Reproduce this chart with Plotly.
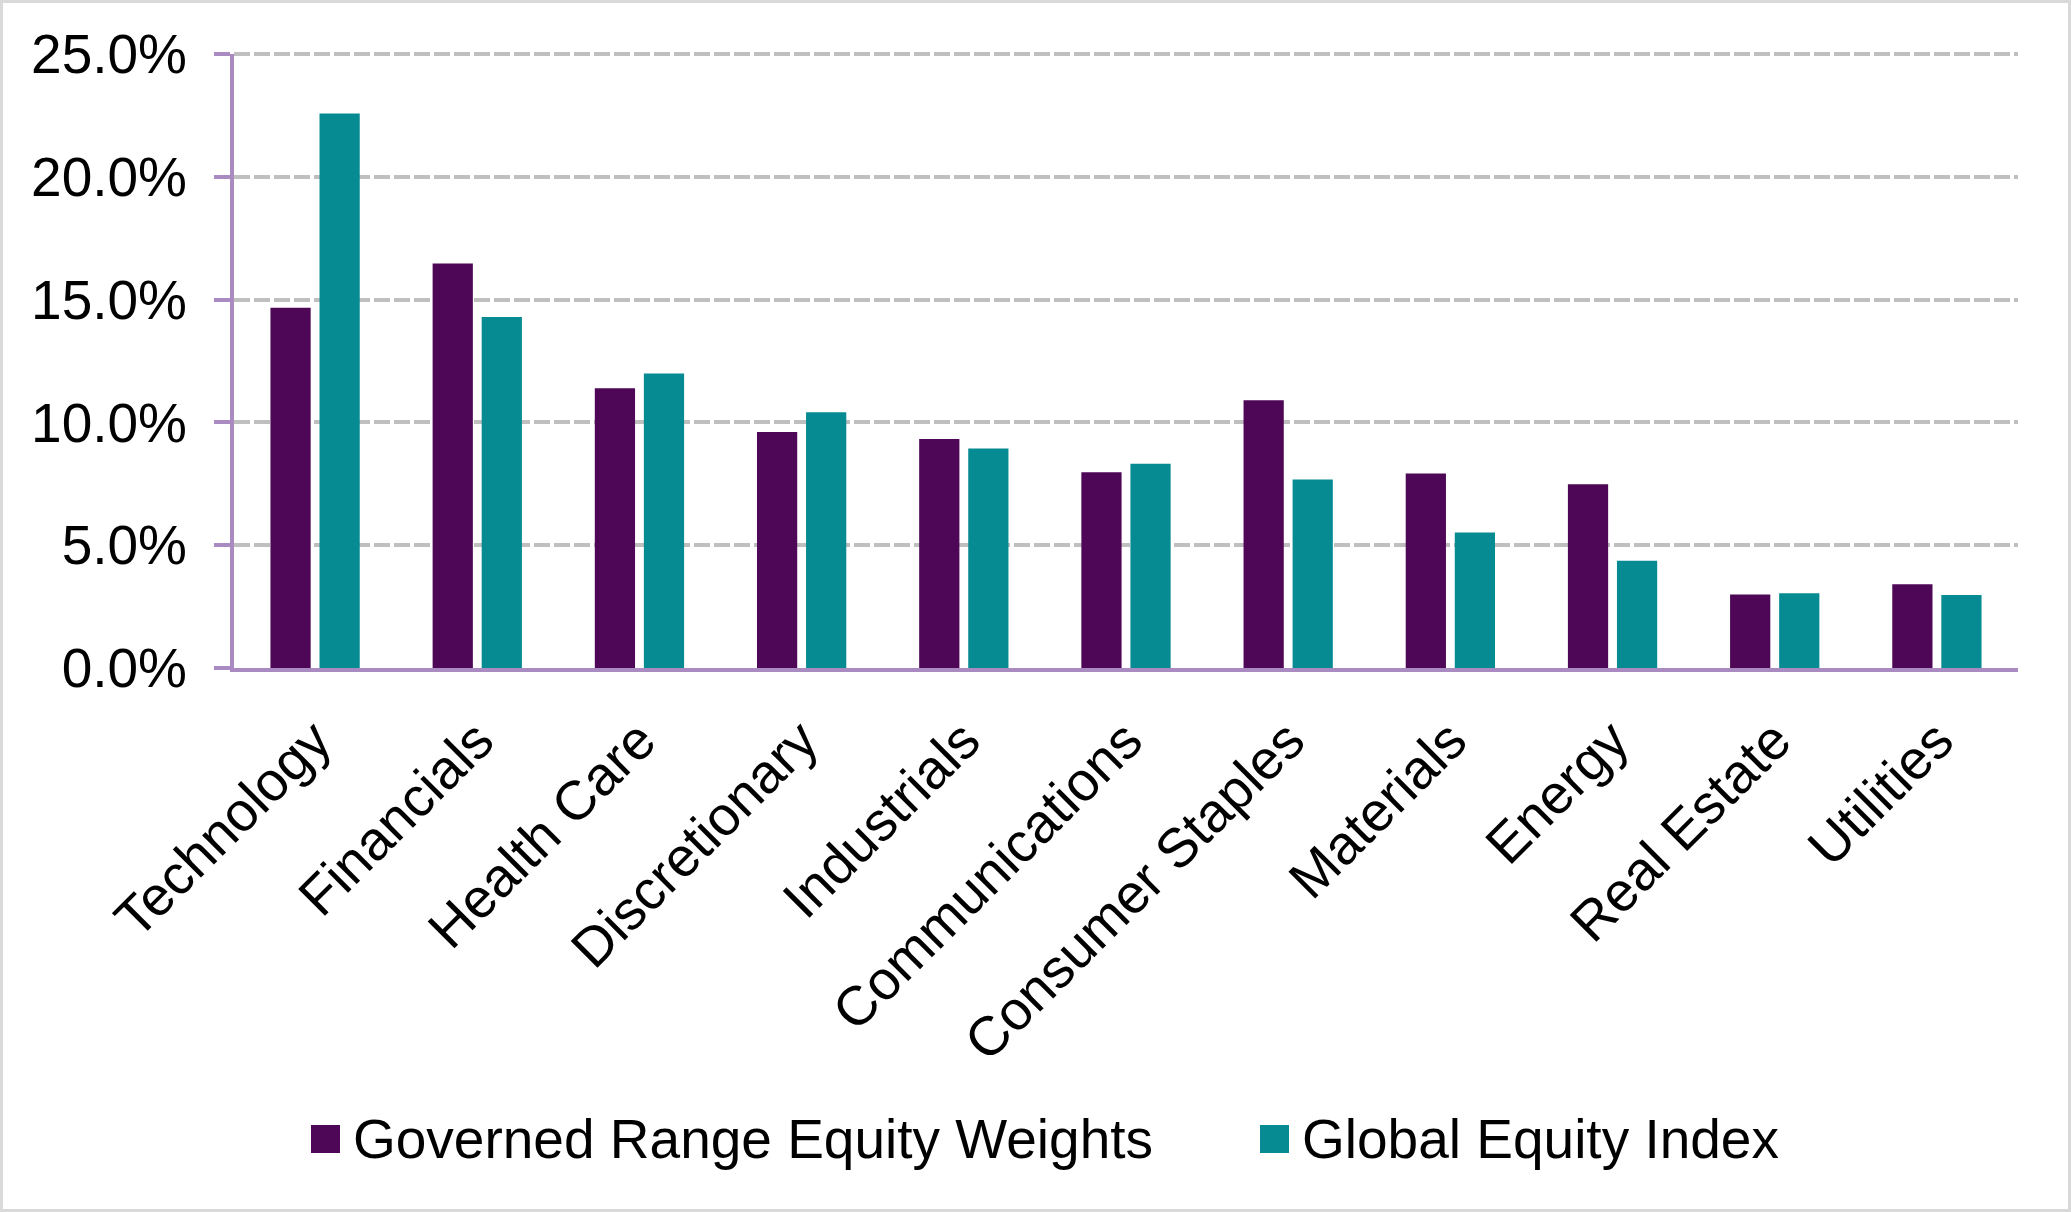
import plotly.graph_objects as go

categories = ["Technology", "Financials", "Health Care", "Discretionary", "Industrials",
              "Communications", "Consumer Staples", "Materials", "Energy", "Real Estate", "Utilities"]
governed = [14.67, 16.47, 11.39, 9.61, 9.32, 7.97, 10.90, 7.92, 7.48, 2.99, 3.41]
global_index = [22.58, 14.29, 11.99, 10.41, 8.94, 8.32, 7.68, 5.52, 4.37, 3.04, 2.97]
series_names = ["Governed Range Equity Weights", "Global Equity Index"]
y_ticks = [0, 5, 10, 15, 20, 25]

PURPLE = "#4E0657"
TEAL = "#078B93"
AXIS = "#A98BC1"
GRID = "#BFBFBF"
FONT = "Liberation Sans, Arial, sans-serif"

W, H = 2071, 1212
L, R, T, B = 234, 53, 54, 544
PW, PH = W - L - R, H - T - B


def px(x):
    return (x - L) / PW


def py(y):
    return (H - B - y) / PH


fig = go.Figure()
fig.add_trace(go.Bar(x=categories, y=governed, name=series_names[0],
                     marker=dict(color=PURPLE, line=dict(width=0)), showlegend=False))
fig.add_trace(go.Bar(x=categories, y=global_index, name=series_names[1],
                     marker=dict(color=TEAL, line=dict(width=0)), showlegend=False))

shapes = [
    # top gridline at the upper end of the axis range (plotly hides the grid line on the plot edge)
    dict(type="line", xref="paper", yref="paper", x0=0, x1=1, y0=1, y1=1,
         line=dict(color=GRID, width=4, dash="16px,4px"), layer="below"),
    dict(type="rect", xref="paper", yref="paper", x0=px(1.5), x1=px(2069.5), y0=py(1.5), y1=py(1210.5),
         line=dict(color="#D9D9D9", width=3), fillcolor="rgba(0,0,0,0)", layer="above"),
    dict(type="rect", xref="paper", yref="paper", x0=px(311), x1=px(340), y0=py(1125), y1=py(1153),
         line=dict(width=0), fillcolor=PURPLE),
    dict(type="rect", xref="paper", yref="paper", x0=px(1260), x1=px(1289), y0=py(1125), y1=py(1153),
         line=dict(width=0), fillcolor=TEAL),
]
annotations = [
    dict(xref="paper", yref="paper", x=px(351), y=py(1139), xanchor="left", yanchor="middle",
         text=series_names[0], showarrow=False, font=dict(size=55, color="#000000", family=FONT)),
    dict(xref="paper", yref="paper", x=px(1300), y=py(1139), xanchor="left", yanchor="middle",
         text=series_names[1], showarrow=False, font=dict(size=55, color="#000000", family=FONT)),
]

fig.update_layout(
    width=W, height=H,
    margin=dict(l=L, r=R, t=T, b=B, autoexpand=False),
    paper_bgcolor="white", plot_bgcolor="white",
    font=dict(family=FONT, size=55, color="#000000"),
    barmode="group", bargap=0.395, bargroupgap=0.18,
    showlegend=False,
    shapes=shapes, annotations=annotations,
    xaxis=dict(showline=True, linecolor=AXIS, linewidth=4, ticks="", showgrid=False,
               tickangle=-45, tickfont=dict(size=55), ticklabelstandoff=14, fixedrange=True),
    yaxis=dict(range=[0, 25], tickvals=y_ticks, ticktext=[f"{v:.1f}%" for v in y_ticks],
               showline=True, linecolor=AXIS, linewidth=4, ticks="outside", ticklen=16,
               tickwidth=4, tickcolor=AXIS, showgrid=True, gridcolor=GRID, gridwidth=4,
               griddash="16px,4px", zeroline=False, tickfont=dict(size=55),
               ticklabelstandoff=16, fixedrange=True),
)

fig.write_html("out.html")
